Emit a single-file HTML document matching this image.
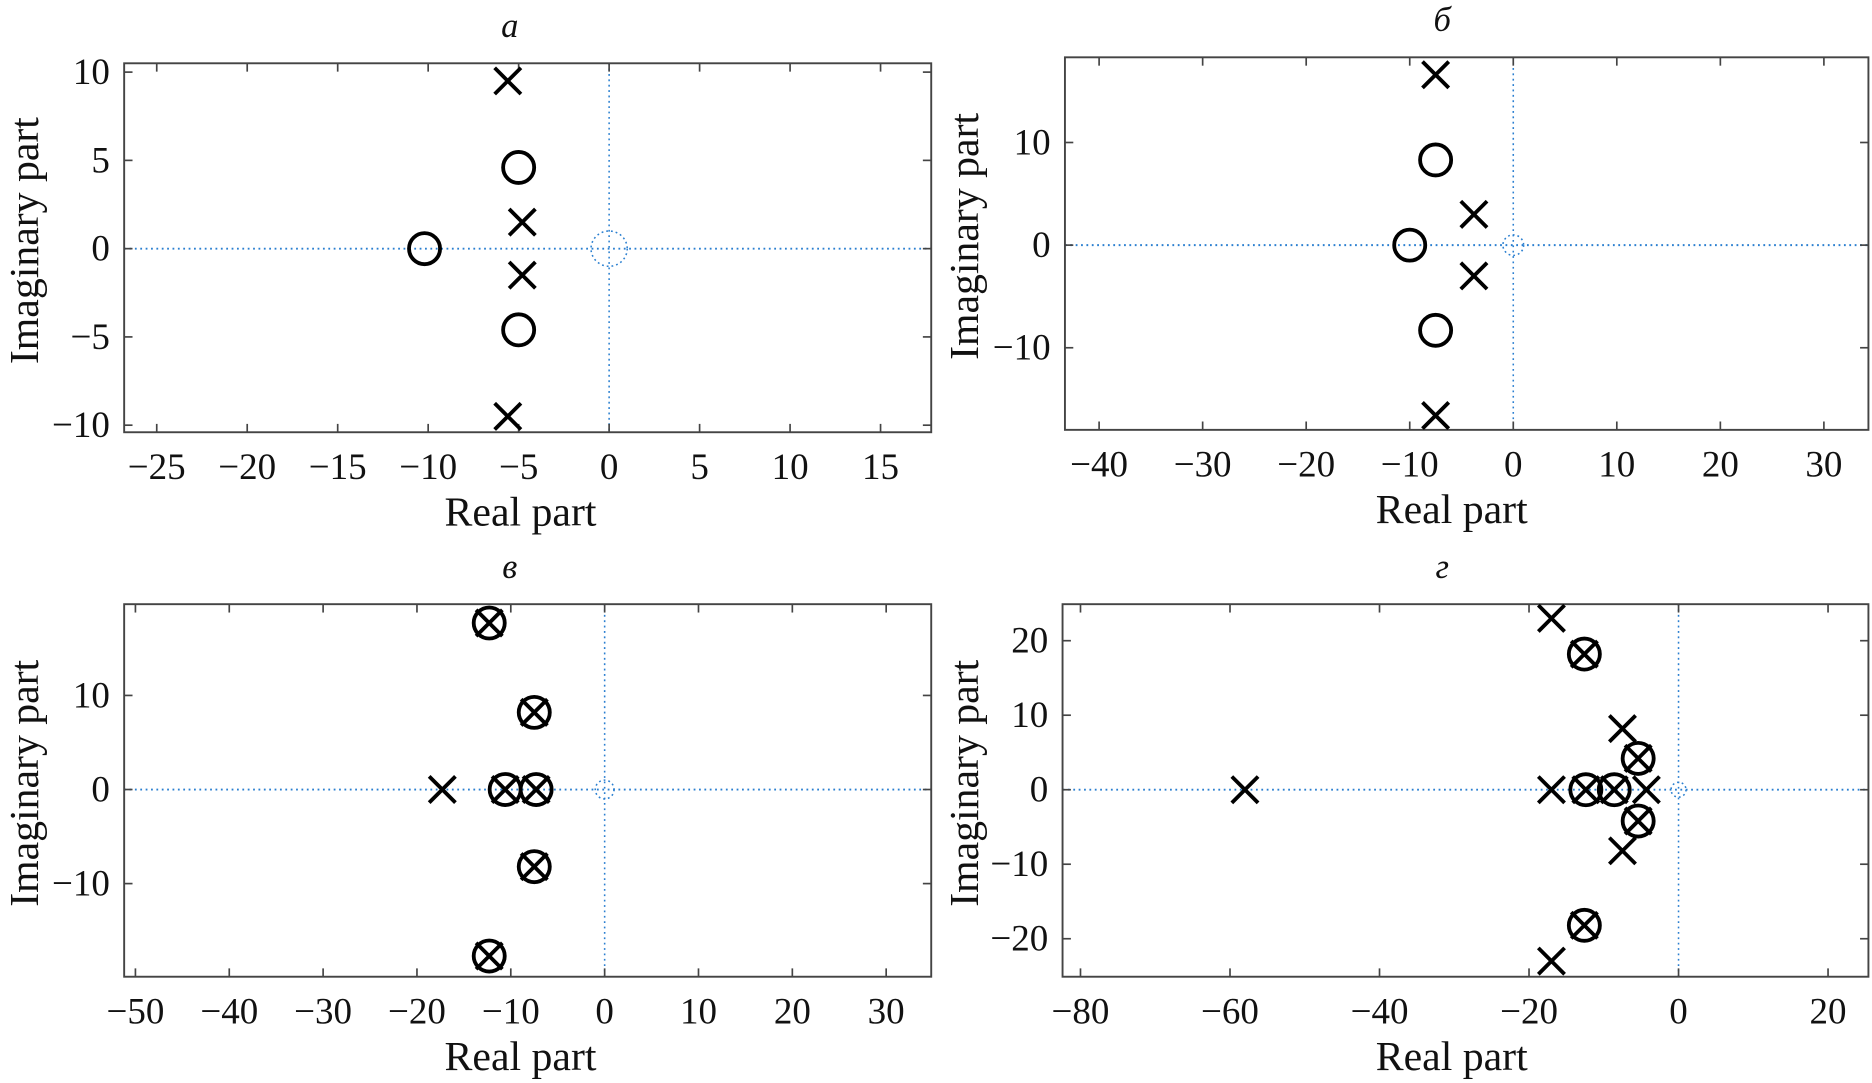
<!DOCTYPE html>
<html><head><meta charset="utf-8"><style>
html,body{margin:0;padding:0;background:#fff;width:1872px;height:1083px;overflow:hidden}
svg{display:block}
text{font-family:"Liberation Serif",serif;fill:#111}
</style></head><body>
<svg id="fig" width="1872" height="1083" viewBox="0 0 1568 907" preserveAspectRatio="none" xmlns="http://www.w3.org/2000/svg"></svg>
<script>
// ---- data ----
const aPolesRe = [-5.6, -5.6, -4.8, -4.8];
const aPolesIm = [9.5, -9.5, 1.5, -1.5];
const aZerosRe = [-5, -5, -10.2];
const aZerosIm = [4.6, -4.6, 0];
const aXTicks = [-25, -20, -15, -10, -5, 0, 5, 10, 15];
const aYTicks = [10, 5, 0, -5, -10];

const bPolesRe = [-7.5, -7.5, -3.8, -3.8];
const bPolesIm = [16.6, -16.6, 3, -3];
const bZerosRe = [-7.5, -7.5, -10];
const bZerosIm = [8.3, -8.3, 0];
const bXTicks = [-40, -30, -20, -10, 0, 10, 20, 30];
const bYTicks = [10, 0, -10];

const cPolesRe = [-12.3, -12.3, -7.5, -7.5, -10.6, -7.3, -17.3];
const cPolesIm = [17.7, -17.7, 8.2, -8.2, 0, 0, 0];
const cZerosRe = [-12.3, -12.3, -7.5, -7.5, -10.6, -7.3];
const cZerosIm = [17.7, -17.7, 8.2, -8.2, 0, 0];
const cXTicks = [-50, -40, -30, -20, -10, 0, 10, 20, 30];
const cYTicks = [10, 0, -10];

const dPolesRe = [-58, -17, -17, -17, -7.5, -7.5, -4.3, -12.6, -12.6, -12.4, -8.6, -5.4, -5.4];
const dPolesIm = [0, 23, -23, 0, 8.2, -8.2, 0, 18.2, -18.2, 0, 0, 4.2, -4.2];
const dZerosRe = [-12.6, -12.6, -12.4, -8.6, -5.4, -5.4];
const dZerosIm = [18.2, -18.2, 0, 0, 4.2, -4.2];
const dXTicks = [-80, -60, -40, -20, 0, 20];
const dYTicks = [20, 10, 0, -10, -20];

const NS = "http://www.w3.org/2000/svg";
const svg = document.getElementById('fig');
function mk(tag, attrs, parent){const e=document.createElementNS(NS,tag);for(const k in attrs)e.setAttribute(k,attrs[k]);(parent||svg).appendChild(e);return e;}

function panel(cfg){
  const g = mk('g',{});
  
  
  const {x0,x1,y0,y1,xmin,xmax,ymin,ymax} = cfg;
  const sx = v => x0 + (v - xmin) / (xmax - xmin) * (x1 - x0);
  const sy = v => y1 - (v - ymin) / (ymax - ymin) * (y1 - y0);
  const hl = mk('line',{x1:x0,x2:x1,y1:sy(0),y2:sy(0),stroke:'#2a7fd0','stroke-width':1.6,'stroke-dasharray':'1.5 3'},g);
  
  
  const vl = mk('line',{x1:sx(0),x2:sx(0),y1:y0,y2:y1,stroke:'#2a7fd0','stroke-width':1.3,'stroke-dasharray':'1.5 3'},g);
  
  
  const uc = mk('ellipse',{cx:sx(0),cy:sy(0),rx:Math.abs(sx(1)-sx(0)),ry:Math.abs(sy(1)-sy(0)),fill:'none',stroke:'#2a7fd0','stroke-width':1.3,'stroke-dasharray':'1.5 2.5'},g);
  
  
  const box = mk('rect',{x:x0,y:y0,width:x1-x0,height:y1-y0,fill:'none',stroke:'#444','stroke-width':1.6},g);
  
  
  cfg.xt.forEach(t=>{
    const x=sx(t);
    mk('line',{x1:x,x2:x,y1:y1,y2:y1-7,stroke:'#444','stroke-width':1.4},g);
    mk('line',{x1:x,x2:x,y1:y0,y2:y0+7,stroke:'#444','stroke-width':1.4},g);
    const tx = mk('text',{x:x,y:y1+39,'font-size':31,'text-anchor':'middle'},g);
    tx.textContent = (t<0?'\u2212':'')+Math.abs(t);
    
    
  });
  cfg.yt.forEach(t=>{
    const y=sy(t);
    mk('line',{x1:x0,x2:x0+7,y1:y,y2:y,stroke:'#444','stroke-width':1.4},g);
    mk('line',{x1:x1,x2:x1-7,y1:y,y2:y,stroke:'#444','stroke-width':1.4},g);
    const ty = mk('text',{x:x0-12,y:y+10,'font-size':31,'text-anchor':'end'},g);
    ty.textContent = (t<0?'\u2212':'')+Math.abs(t);
    
    
  });
  const xl = mk('text',{x:cfg.xlx,y:y1+78,'font-size':35,'text-anchor':'middle'},g);
  xl.textContent='Real part';
  
  
  const yl = mk('text',{x:0,y:0,'font-size':35,'text-anchor':'middle',transform:`translate(${cfg.ylx},${(y0+y1)/2 - 6}) rotate(-90)`},g);
  yl.textContent='Imaginary part';
  
  
  const ti = mk('text',{x:cfg.tx,y:y0-22,'font-size':29,'font-style':'italic','text-anchor':'middle'},g);
  ti.textContent=cfg.title;
  
  
  const r=11;
  cfg.zr.forEach((v,i)=>{
    const c = mk('circle',{cx:sx(v),cy:sy(cfg.zi[i]),r:13,fill:'none',stroke:'#000','stroke-width':3.2},g);
    
    
  });
  cfg.pr.forEach((v,i)=>{
    const cx=sx(v), cy=sy(cfg.pi[i]);
    const p = mk('path',{d:`M${cx-r} ${cy-r}L${cx+r} ${cy+r}M${cx+r} ${cy-r}L${cx-r} ${cy+r}`,stroke:'#000','stroke-width':3.2,fill:'none'},g);
    
    
  });
}

panel({name:'panel-a',title:'а',x0:104,x1:780,y0:53,y1:362,xmin:-26.8,xmax:17.8,ymin:-10.4,ymax:10.5,xt:aXTicks,yt:aYTicks,pr:aPolesRe,pi:aPolesIm,zr:aZerosRe,zi:aZerosIm,ylx:32,tx:427,xlx:436});
panel({name:'panel-b',title:'б',x0:892,x1:1565,y0:48,y1:360,xmin:-43.3,xmax:34.3,ymin:-18.0,ymax:18.3,xt:bXTicks,yt:bYTicks,pr:bPolesRe,pi:bPolesIm,zr:bZerosRe,zi:bZerosIm,ylx:819,tx:1208,xlx:1216});
panel({name:'panel-c',title:'в',x0:104,x1:780,y0:506,y1:818,xmin:-51.2,xmax:34.8,ymin:-19.9,ymax:19.7,xt:cXTicks,yt:cYTicks,pr:cPolesRe,pi:cPolesIm,zr:cZerosRe,zi:cZerosIm,ylx:32,tx:427,xlx:436});
panel({name:'panel-d',title:'г',x0:890,x1:1565,y0:506,y1:818,xmin:-82.4,xmax:25.4,ymin:-25.1,ymax:24.9,xt:dXTicks,yt:dYTicks,pr:dPolesRe,pi:dPolesIm,zr:dZerosRe,zi:dZerosIm,ylx:819,tx:1208,xlx:1216});
</script>
</body></html>
